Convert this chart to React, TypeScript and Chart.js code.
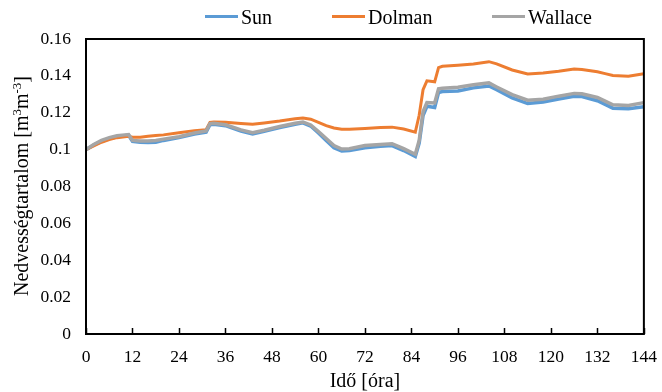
import React, { useEffect, useRef } from 'react';
import { Chart, registerables } from 'chart.js';

Chart.register(...registerables);

const hours = [0, 2, 4, 6, 8, 10, 11, 12, 14, 16, 18, 20, 24, 28, 31, 32, 33, 36, 40, 43, 46, 50, 54, 56, 58, 60, 62, 64, 66, 68, 72, 76, 79, 82, 85, 86, 87, 88, 90, 91, 92, 96, 100, 104, 106, 110, 114, 118, 122, 126, 128, 132, 134, 136, 140, 144];

const sun = [0.1, 0.1025, 0.1045, 0.106, 0.107, 0.1075, 0.1078, 0.1045, 0.104, 0.1038, 0.104, 0.105, 0.1065, 0.1085, 0.1095, 0.1135, 0.1138, 0.113, 0.11, 0.1085, 0.11, 0.112, 0.1138, 0.1145, 0.1128, 0.109, 0.105, 0.101, 0.0993, 0.0995, 0.101, 0.1018, 0.1022, 0.0995, 0.0963, 0.1035, 0.1185, 0.1235, 0.1228, 0.131, 0.1315, 0.1318, 0.1335, 0.1345, 0.1325, 0.128, 0.125, 0.1258, 0.1275, 0.129, 0.1288, 0.1265, 0.1245, 0.1225, 0.1222, 0.1232];

const dolman = [0.1, 0.102, 0.104, 0.1055, 0.1065, 0.107, 0.1072, 0.1067, 0.1067, 0.1072, 0.1076, 0.108, 0.1092, 0.1103, 0.1108, 0.1148, 0.115, 0.1148, 0.1142, 0.1138, 0.1145, 0.1155, 0.1167, 0.1172, 0.1165, 0.1148, 0.113, 0.1117, 0.111, 0.111, 0.1115, 0.112, 0.1122, 0.1112, 0.1095, 0.1186, 0.1325, 0.1373, 0.1368, 0.1445, 0.1452, 0.1458, 0.1465, 0.1477, 0.1465, 0.1432, 0.141, 0.1415, 0.1425, 0.1437, 0.1435, 0.1422, 0.1412, 0.1402, 0.1398, 0.1412];

const wallace = [0.1, 0.1028, 0.105, 0.1065, 0.1075, 0.108, 0.1082, 0.105, 0.1047, 0.1047, 0.105, 0.1057, 0.107, 0.109, 0.1101, 0.1141, 0.1143, 0.1135, 0.1107, 0.1092, 0.1105, 0.1125, 0.1143, 0.115, 0.1134, 0.1098, 0.106, 0.1022, 0.1003, 0.1005, 0.1022, 0.1028, 0.1032, 0.1005, 0.0975, 0.105, 0.1205, 0.1255, 0.1253, 0.133, 0.1333, 0.1338, 0.1352, 0.1362, 0.134, 0.1298, 0.1268, 0.1273, 0.129, 0.1305, 0.1303, 0.1283, 0.1263, 0.1243, 0.124, 0.1255];

const xTicks = [0, 12, 24, 36, 48, 60, 72, 84, 96, 108, 120, 132, 144];
const yTicks = [0, 0.02, 0.04, 0.06, 0.08, 0.1, 0.12, 0.14, 0.16];
const yTickLabels = ['0', '0.02', '0.04', '0.06', '0.08', '0.1', '0.12', '0.14', '0.16'];

const seriesNames = ['Sun', 'Dolman', 'Wallace'];
const seriesColors = ['#5B9BD5', '#ED7D31', '#A5A5A5'];

const xTitle = 'Idő [óra]';
const yTitleMain = 'Nedvességtartalom [m';

const FONT = "'Liberation Serif', 'Times New Roman', serif";

const toPoints = (ys: number[]) => hours.map((h, i) => ({ x: h, y: ys[i] }));

const decorPlugin = {
  id: 'decor',
  afterDatasetsDraw(chart: any) {
    const { ctx, chartArea } = chart;
    const { left, right, top, bottom } = chartArea;
    const xs = chart.scales.x;
    ctx.save();
    ctx.strokeStyle = '#000';
    ctx.lineWidth = 1.5;
    ctx.beginPath();
    xTicks.forEach((t) => {
      const px = Math.round(xs.getPixelForValue(t)) + 0.5;
      ctx.moveTo(px, bottom);
      ctx.lineTo(px, bottom - 6);
    });
    ctx.stroke();
    ctx.lineWidth = 2;
    ctx.strokeStyle = '#000';
    ctx.strokeRect(left, top, right - left, bottom - top);
    ctx.restore();
  },
  afterDraw(chart: any) {
    const { ctx, chartArea } = chart;
    ctx.save();
    ctx.fillStyle = '#000';
    ctx.font = `20px ${FONT}`;
    ctx.textAlign = 'center';
    ctx.textBaseline = 'alphabetic';
    ctx.fillText(xTitle, (chartArea.left + chartArea.right) / 2, 387);

    ctx.translate(28, 186);
    ctx.rotate(-Math.PI / 2);
    ctx.textAlign = 'left';
    const big = `20px ${FONT}`;
    const small = `13px ${FONT}`;
    const parts: [string, boolean][] = [
      [yTitleMain, false],
      ['3', true],
      ['m', false],
      ['-3', true],
      [']', false],
    ];
    let total = 0;
    parts.forEach(([t, sup]) => {
      ctx.font = sup ? small : big;
      total += ctx.measureText(t).width;
    });
    let cx = -total / 2;
    parts.forEach(([t, sup]) => {
      ctx.font = sup ? small : big;
      ctx.fillText(t, cx, sup ? -7 : 0);
      cx += ctx.measureText(t).width;
    });
    ctx.restore();

    ctx.save();
    const legendStarts = [205, 332, 492];
    ctx.font = `20px ${FONT}`;
    ctx.textAlign = 'left';
    ctx.textBaseline = 'alphabetic';
    seriesNames.forEach((name, i) => {
      const x0 = legendStarts[i];
      ctx.strokeStyle = seriesColors[i];
      ctx.lineWidth = 3;
      ctx.beginPath();
      ctx.moveTo(x0, 16.5);
      ctx.lineTo(x0 + 33, 16.5);
      ctx.stroke();
      ctx.fillStyle = '#000';
      ctx.fillText(name, x0 + 36, 24);
    });
    ctx.restore();
  },
};

export default function App() {
  const ref = useRef<HTMLCanvasElement | null>(null);

  useEffect(() => {
    if (!ref.current) return;
    const chart = new Chart(ref.current, {
      type: 'line',
      data: {
        datasets: [
          {
            label: seriesNames[0],
            data: toPoints(sun),
            borderColor: seriesColors[0],
            backgroundColor: seriesColors[0],
            borderWidth: 3.5,
            pointRadius: 0,
            tension: 0,
            order: 3,
          },
          {
            label: seriesNames[1],
            data: toPoints(dolman),
            borderColor: seriesColors[1],
            backgroundColor: seriesColors[1],
            borderWidth: 3,
            pointRadius: 0,
            tension: 0,
            order: 2,
          },
          {
            label: seriesNames[2],
            data: toPoints(wallace),
            borderColor: seriesColors[2],
            backgroundColor: seriesColors[2],
            borderWidth: 3.5,
            pointRadius: 0,
            tension: 0,
            order: 1,
          },
        ],
      },
      options: {
        responsive: false,
        animation: false,
        devicePixelRatio: 1,
        layout: { padding: { top: 39, right: 15, left: 0, bottom: 0 } },
        plugins: {
          legend: { display: false },
          tooltip: { enabled: false },
          title: { display: false },
        },
        scales: {
          x: {
            type: 'linear',
            min: 0,
            max: 144,
            grid: { display: false },
            border: { display: false },
            afterBuildTicks: (s: any) => {
              s.ticks = xTicks.map((v) => ({ value: v }));
            },
            afterFit: (s: any) => {
              s.height = 58;
            },
            ticks: {
              color: '#000',
              padding: 5,
              maxRotation: 0,
              autoSkip: false,
              font: { family: FONT, size: 17.5 },
              callback: (v: any) => String(v),
            },
          },
          y: {
            type: 'linear',
            min: 0,
            max: 0.16,
            grid: { display: false },
            border: { display: false },
            afterBuildTicks: (s: any) => {
              s.ticks = yTicks.map((v) => ({ value: v }));
            },
            afterFit: (s: any) => {
              s.width = 86;
            },
            ticks: {
              color: '#000',
              padding: 7,
              autoSkip: false,
              font: { family: FONT, size: 17.5 },
              callback: (_v: any, i: number) => yTickLabels[i],
            },
          },
        },
      },
      plugins: [decorPlugin],
    });
    return () => chart.destroy();
  }, []);

  return (
    <div style={{ position: 'absolute', left: 0, top: 0, width: 662, height: 392, background: '#fff' }}>
      <canvas ref={ref} width={662} height={392} style={{ width: 662, height: 392 }} />
    </div>
  );
}
